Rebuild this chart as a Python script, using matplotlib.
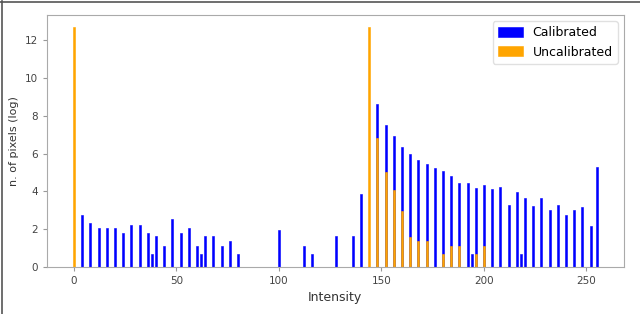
import matplotlib
matplotlib.use("Agg")
import matplotlib.pyplot as plt
from matplotlib.lines import Line2D

# intensity bins and log pixel counts
calib_x = [4, 8, 12, 16, 20, 24, 28, 32, 36, 38, 40, 44, 48, 52, 56, 60, 62, 64, 68, 72, 76, 80,
           100, 112, 116, 128, 136, 140, 148, 152, 156, 160, 164, 168, 172, 176, 180, 184, 188,
           192, 194, 196, 200, 204, 208, 212, 216, 218, 220, 224, 228, 232, 236, 240, 244, 248,
           252, 255]
calib_y = [2.77, 2.30, 2.08, 2.08, 2.08, 1.79, 2.20, 2.20, 1.79, 0.69, 1.61, 1.10, 2.56, 1.79,
           2.08, 1.10, 0.69, 1.61, 1.61, 1.10, 1.39, 0.69,
           1.95, 1.10, 0.69, 1.61, 1.61, 3.87, 8.64, 7.52, 6.92, 6.37, 6.00, 5.66, 5.45, 5.26,
           5.10, 4.83, 4.44, 4.44, 0.69, 4.18, 4.32, 4.11, 4.21, 3.26, 3.95, 0.69, 3.65, 3.22,
           3.66, 2.99, 3.26, 2.76, 2.99, 3.17, 2.19, 5.27]

uncalib_x = [0, 144, 148, 152, 156, 160, 164, 168, 172, 180, 184, 188, 196, 200]
uncalib_y = [12.70, 12.70, 6.80, 5.03, 4.09, 2.97, 1.59, 1.38, 1.38, 0.69, 1.10, 1.10, 0.69, 1.10]

fig = plt.figure(figsize=(6.4, 3.14), dpi=100)
ax = fig.add_axes([0.073, 0.15, 0.902, 0.802])

ax.bar(calib_x, calib_y, width=1, color="blue", edgecolor="blue", linewidth=0.4,
       label="Calibrated")
ax.bar(uncalib_x, uncalib_y, width=1, color="orange", edgecolor="orange", linewidth=0.4,
       label="Uncalibrated")

ax.set_xlabel("Intensity", fontsize=9, color="#333333")
ax.set_ylabel("n. of pixels (log)", fontsize=8, color="#333333")
ax.set_xticks([0, 50, 100, 150, 200, 250])
ax.set_yticks([0, 2, 4, 6, 8, 10, 12])
ax.tick_params(labelsize=7.5, colors="#444444", color="#999999", length=3)
for s in ax.spines.values():
    s.set_color("#aaaaaa")

ax.legend(loc="upper right", fontsize=9, handlelength=2, handleheight=0.9,
          framealpha=0.9, edgecolor="#dddddd")

# figure border: only the left and top edges show in the reference
fig.add_artist(Line2D([0.003, 0.003], [0, 0.997], color="#555555", lw=1.2,
                      transform=fig.transFigure))
fig.add_artist(Line2D([0, 1], [0.995, 0.995], color="#555555", lw=1.2,
                      transform=fig.transFigure))

fig.savefig("out.png", dpi=100)
